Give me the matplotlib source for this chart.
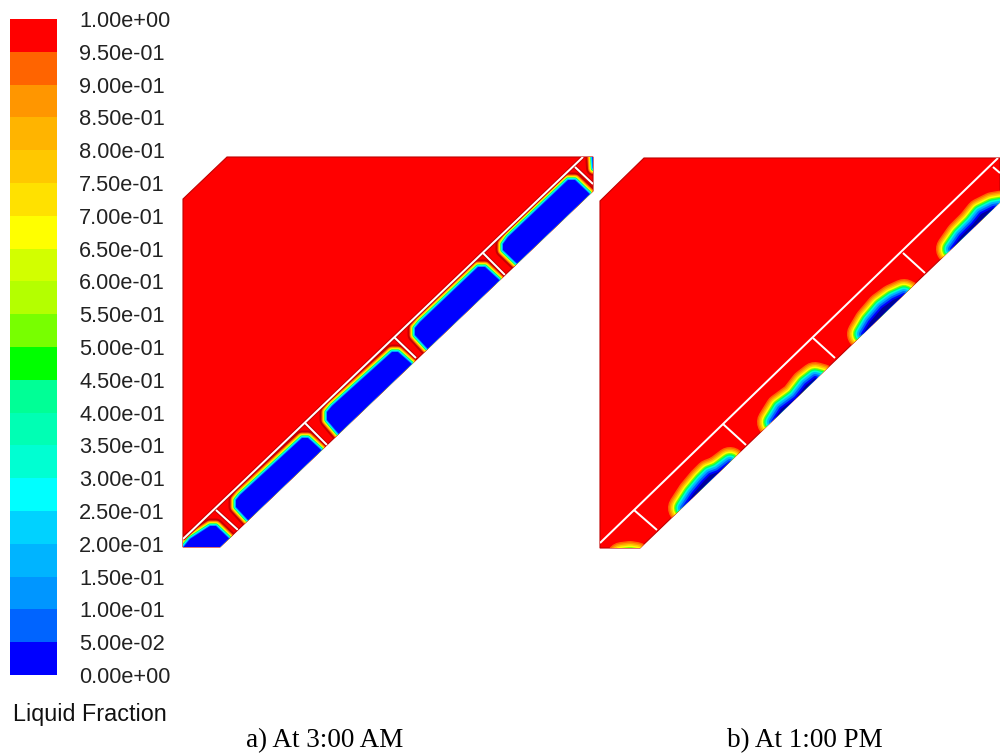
import numpy as np
import matplotlib
matplotlib.use('Agg')
import matplotlib.pyplot as plt
from matplotlib.colors import ListedColormap, BoundaryNorm
from matplotlib.patches import Polygon

# colour scale
levels = [0.0, 0.05, 0.10, 0.15, 0.20, 0.25, 0.30, 0.35, 0.40, 0.45, 0.50,
          0.55, 0.60, 0.65, 0.70, 0.75, 0.80, 0.85, 0.90, 0.95, 1.0]
level_labels = ['0.00e+00', '5.00e-02', '1.00e-01', '1.50e-01', '2.00e-01', '2.50e-01', '3.00e-01',
                '3.50e-01', '4.00e-01', '4.50e-01', '5.00e-01', '5.50e-01', '6.00e-01', '6.50e-01',
                '7.00e-01', '7.50e-01', '8.00e-01', '8.50e-01', '9.00e-01', '9.50e-01', '1.00e+00']
cell_colors = ['#0000ff', '#0064ff', '#0096ff', '#00b4ff', '#00d2ff', '#00ffff', '#00ffd2', '#00ffb4',
               '#00ff96', '#00ff00', '#78ff00', '#b4ff00', '#d2ff00', '#ffff00', '#ffe100', '#ffc800',
               '#ffb400', '#ff9600', '#ff6400', '#ff0000']
top_color = '#ff0000'

# panel a, picture pixels
domain_a = [(183, 199), (227, 157), (593, 157), (593, 191), (220, 547), (183, 547)]
wall_a = [(183, 539), (583, 157)]
seps_a = [[(216, 510), (238, 530)], [(305, 423), (328, 446)], [(394, 337), (416, 358)],
          [(483, 253), (505, 275)], [(575, 167), (593, 184)]]
# solid regions run on past the lower edge, the domain clips them
solid_a = [
    [(176, 556), (190, 539), (210, 526), (216, 526), (240, 549), (230, 560)],
    [(236, 500), (240, 495), (302, 438), (308, 438), (332, 460), (259, 532), (236, 507)],
    [(327, 412), (332, 406), (392, 352), (398, 352), (423, 374), (349, 446), (327, 420)],
    [(415, 328), (420, 322), (478, 267), (485, 267), (509, 289), (438, 360), (415, 335)],
    [(503, 244), (508, 237), (568, 180), (575, 180), (598, 202), (528, 274), (503, 250)],
    [(592, 150), (599, 150), (599, 168), (593, 168)],
]

# panel b
domain_b = [(600, 201), (644, 158), (1000, 158), (1000, 202), (640, 548), (600, 548)]
wall_b = [(600, 543), (998, 158)]
seps_b = [[(634, 510), (657, 530)], [(723, 424), (746, 445)], [(813, 338), (835, 358)],
          [(903, 253), (925, 273)], [(993, 167), (1000, 173)]]
solid_b = [
    [(622, 558), (630, 557), (636, 558), (630, 564)],
    [(684, 508), (693, 494), (703, 482), (710, 475), (718, 472), (730, 463), (738, 470), (698, 514)],
    [(773, 422), (781, 409), (796, 398), (806, 385), (815, 378), (822, 380), (781, 428)],
    [(863, 334), (870, 322), (882, 308), (893, 300), (904, 295), (910, 298), (870, 342)],
    [(952, 249), (961, 236), (973, 224), (981, 214), (993, 208), (1005, 206), (1007, 214), (959, 257)],
]

# offset of each front colour, pixels from the solid edge
rings_a = [('#c80000', 7.5), ('#ff6400', 5.5), ('#ffc800', 4.5), ('#ffff00', 3.6),
           ('#00ff64', 2.7), ('#00ffff', 1.8), ('#0096ff', 0.9)]
rings_b = [('#ff6400', 16.0), ('#ff9600', 14.5), ('#ffc800', 13.0), ('#ffff00', 11.5), ('#78ff00', 10.0),
           ('#00ff64', 8.8), ('#00ffd2', 7.5), ('#00b4ff', 6.0), ('#0064ff', 4.0), ('#0000ff', 2.0)]
core_b = '#00009c'

PX = 0.72  # points per pixel at dpi 100

fig = plt.figure(figsize=(10, 7.53), dpi=100)
ax = fig.add_axes([0, 0, 1, 1])
ax.set_xlim(0, 1000)
ax.set_ylim(753, 0)
ax.axis('off')


def draw_panel(domain, wall, seps, solids, rings, core, wall_shadow):
    dom = Polygon(domain, closed=True, fc=top_color, ec='#c00000', lw=0.8, zorder=1)
    ax.add_patch(dom)
    for pts in solids:
        for col, off in rings:
            p = Polygon(pts, closed=True, fc=col, ec=col, lw=2 * off * PX, joinstyle='round', zorder=2)
            ax.add_patch(p)
            p.set_clip_path(dom)
        p = Polygon(pts, closed=True, fc=core, ec='none', zorder=3)
        ax.add_patch(p)
        p.set_clip_path(dom)
    for s in seps + [wall]:
        xs = [q[0] for q in s]
        ys = [q[1] for q in s]
        if wall_shadow:
            l, = ax.plot(xs, ys, color='#c80000', lw=4 * PX, zorder=4, solid_capstyle='butt')
            l.set_clip_path(dom)
        l, = ax.plot(xs, ys, color='white', lw=2 * PX, zorder=5, solid_capstyle='butt')
        l.set_clip_path(dom)


draw_panel(domain_a, wall_a, seps_a, solid_a, rings_a, '#0000ff', True)
draw_panel(domain_b, wall_b, seps_b, solid_b, rings_b, core_b, False)

# colour bar
cax = fig.add_axes([10 / 1000, 1 - 675 / 753, 47 / 1000, 656 / 753])
cmap = ListedColormap(cell_colors)
norm = BoundaryNorm(levels, cmap.N)
vals = np.array(levels[:-1]).reshape(-1, 1) + 0.025
cax.pcolormesh([0, 1], levels, vals, cmap=cmap, norm=norm)
cax.set_xticks([])
cax.set_ylim(0, 1)
cax.yaxis.tick_right()
cax.set_yticks(levels)
cax.set_yticklabels(level_labels, family='Liberation Sans', fontsize=15.7, color='#222222')
cax.tick_params(axis='y', length=0, pad=16)
for sp in cax.spines.values():
    sp.set_visible(False)

ax.text(13, 715, 'Liquid Fraction', family='Liberation Sans', fontsize=16.8, color='#111111', va='center', ha='left')
ax.text(325, 741, 'a) At 3:00 AM', family='Liberation Serif', fontsize=19.5, color='black', va='center', ha='center')
ax.text(805, 741, 'b) At 1:00 PM', family='Liberation Serif', fontsize=19.5, color='black', va='center', ha='center')

fig.savefig('out.png', dpi=100)
